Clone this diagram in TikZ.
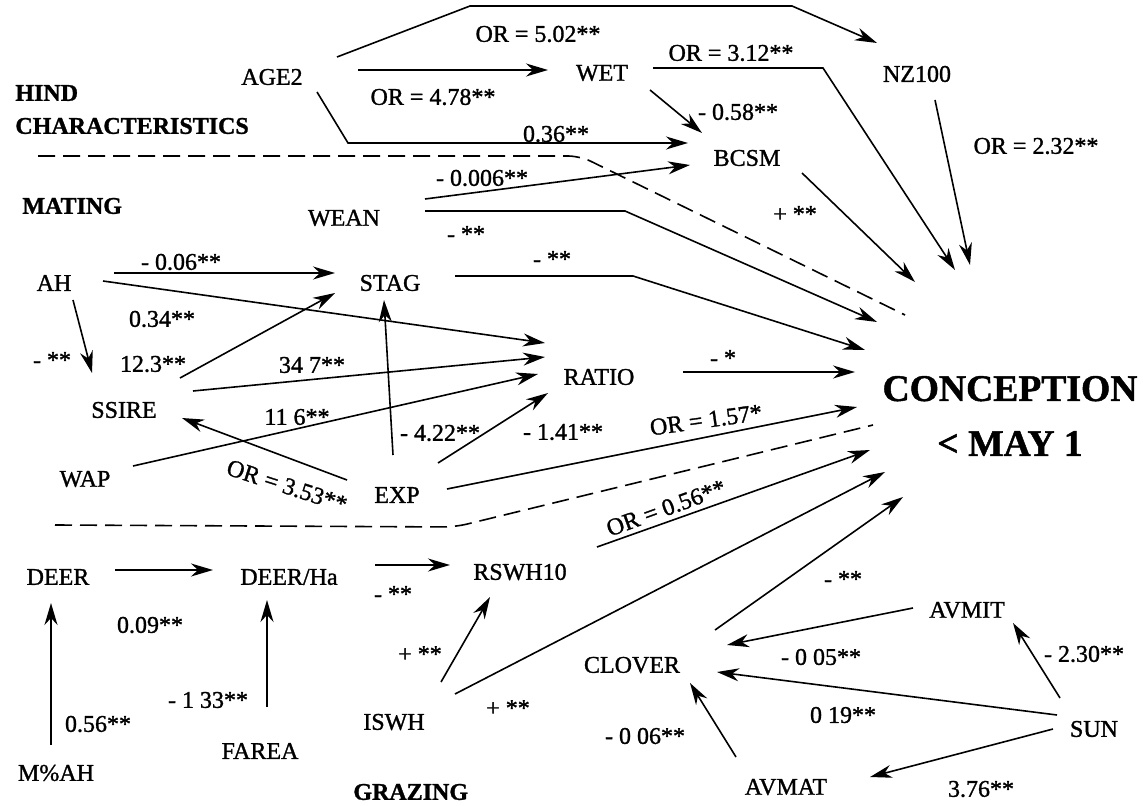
\documentclass[tikz,border=0pt]{standalone}
\usepackage{fontspec}
\setmainfont[FakeBold=1.2]{Liberation Serif}
\usetikzlibrary{arrows.meta}
\begin{document}
\begin{tikzpicture}[x=0.5pt,y=-0.5pt,
  var/.style={inner sep=0pt, font=\fontsize{12}{14}\selectfont},
  head/.style={inner sep=0pt, anchor=west, font=\fontsize{12}{14}\selectfont\bfseries},
  coef/.style={inner sep=0pt, font=\fontsize{12}{14}\selectfont},
  eff/.style={line width=0.8pt, -{Stealth[length=11pt,width=6.5pt,inset=3.5pt]}},
  border/.style={line width=0.8pt, dash pattern=on 8.5pt off 4pt, rounded corners=6pt}]

\useasboundingbox (0,0) rectangle (1143,806);

% group headings
\node[head] (hind) at (15,93) {HIND};
\node[head] (chars) at (15,126) {CHARACTERISTICS};
\node[head] (mating) at (22,206) {MATING};
\node[head] (grazing) at (353,792) {GRAZING};

% variables
\node[var] (AGE2) at (272,77) {AGE2};
\node[var] (WET) at (602,73) {WET};
\node[var] (NZ100) at (917,74) {NZ100};
\node[var] (BCSM) at (747,158) {BCSM};
\node[var] (WEAN) at (344,218) {WEAN};
\node[var] (AH) at (54,283) {AH};
\node[var] (STAG) at (390,283) {STAG};
\node[var] (SSIRE) at (124,410) {SSIRE};
\node[var] (RATIO) at (599,377) {RATIO};
\node[var] (WAP) at (85,479) {WAP};
\node[var] (EXP) at (397,495) {EXP};
\node[var] (DEER) at (58,577) {DEER};
\node[var] (DEERHa) at (289,577) {DEER/Ha};
\node[var] (RSWH10) at (520,572) {RSWH10};
\node[var] (MAH) at (56,773) {M\%AH};
\node[var] (FAREA) at (260,751) {FAREA};
\node[var] (ISWH) at (394,722) {ISWH};
\node[var] (CLOVER) at (632,665) {CLOVER};
\node[var] (AVMIT) at (967,610) {AVMIT};
\node[var] (SUN) at (1094,729) {SUN};
\node[var] (AVMAT) at (786,787) {AVMAT};

% outcome
\node[inner sep=0pt, align=center, font=\fontsize{18.8}{27.5}\selectfont\bfseries] (conc) at (1010,416) {CONCEPTION\\< MAY 1};

% arrival points around the outcome
\coordinate (cWET) at ([shift={(-55,-146)}]conc.center);
\coordinate (cNZ) at ([shift={(-40,-151)}]conc.center);
\coordinate (cBCSM) at ([shift={(-95,-134)}]conc.center);
\coordinate (cWEAN) at ([shift={(-133,-94)}]conc.center);
\coordinate (cSTAG) at ([shift={(-145,-66)}]conc.center);
\coordinate (cRATIO) at ([shift={(-155,-44)}]conc.center);
\coordinate (cEXP) at ([shift={(-153,-9)}]conc.center);
\coordinate (cRSWH) at ([shift={(-140,34)}]conc.center);
\coordinate (cISWH) at ([shift={(-125,56)}]conc.center);
\coordinate (cCLOVER) at ([shift={(-107,81)}]conc.center);

% group boundaries
\draw[border] (38,156) -- (580,156) -- (905,315);
\draw[border] (55,525) -- (455,527) -- (873,425);

% hind characteristics
\draw[eff] ([shift={(65,-20)}]AGE2.center) -- (470,6) -- (792,6) -- ([shift={(-40,-31)}]NZ100.center);
\draw[eff] ([shift={(86,-7)}]AGE2.center) -- ([shift={(-54,-3)}]WET.center);
\draw[eff] ([shift={(45,15)}]AGE2.center) -- (348,143) -- ([shift={(-59,-15)}]BCSM.center);
\draw[eff] ([shift={(48,17)}]WET.center) -- ([shift={(-45,-25)}]BCSM.center);
\draw[eff] ([shift={(51,-5)}]WET.center) -- (823,68) -- (cWET);
\draw[eff] ([shift={(18,26)}]NZ100.center) -- (cNZ);
\draw[eff] ([shift={(55,15)}]BCSM.center) -- (cBCSM);

% mating
\draw[eff] ([shift={(81,-19)}]WEAN.center) -- ([shift={(-57,7)}]BCSM.center);
\draw[eff] ([shift={(81,-7)}]WEAN.center) -- (625,211) -- (cWEAN);
\draw[eff] ([shift={(60,-10)}]AH.center) -- ([shift={(-55,-10)}]STAG.center);
\draw[eff] ([shift={(65,-7)}]STAG.center) -- (633,276) -- (cSTAG);
\draw[eff] ([shift={(49,-2)}]AH.center) -- ([shift={(-54,-34)}]RATIO.center);
\draw[eff] ([shift={(19,17)}]AH.center) -- ([shift={(-32,-37)}]SSIRE.center);
\draw[eff] ([shift={(56,-32)}]SSIRE.center) -- ([shift={(-55,10)}]STAG.center);
\draw[eff] ([shift={(69,-19)}]SSIRE.center) -- ([shift={(-54,-20)}]RATIO.center);
\draw[eff] ([shift={(48,-13)}]WAP.center) -- ([shift={(-61,-3)}]RATIO.center);
\draw[eff] ([shift={(-50,-15)}]EXP.center) -- ([shift={(58,8)}]SSIRE.center);
\draw[eff] ([shift={(-4,-40)}]EXP.center) -- ([shift={(-6,17)}]STAG.center);
\draw[eff] ([shift={(41,-32)}]EXP.center) -- ([shift={(-51,16)}]RATIO.center);
\draw[eff] ([shift={(84,-5)}]RATIO.center) -- (cRATIO);
\draw[eff] ([shift={(50,-6)}]EXP.center) -- (cEXP);

% grazing
\draw[eff] ([shift={(57,-7)}]DEER.center) -- ([shift={(-76,-7)}]DEERHa.center);
\draw[eff] ([shift={(-5,-28)}]MAH.center) -- ([shift={(-7,26)}]DEER.center);
\draw[eff] ([shift={(7,-44)}]FAREA.center) -- ([shift={(-22,23)}]DEERHa.center);
\draw[eff] ([shift={(86,-12)}]DEERHa.center) -- ([shift={(-70,-7)}]RSWH10.center);
\draw[eff] ([shift={(47,-40)}]ISWH.center) -- ([shift={(-30,25)}]RSWH10.center);
\draw[eff] ([shift={(77,-25)}]RSWH10.center) -- (cRSWH);
\draw[eff] ([shift={(61,-28)}]ISWH.center) -- (cISWH);
\draw[eff] ([shift={(83,-35)}]CLOVER.center) -- (cCLOVER);
\draw[eff] ([shift={(-54,-2)}]AVMIT.center) -- ([shift={(95,-20)}]CLOVER.center);
\draw[eff] ([shift={(-37,-14)}]SUN.center) -- ([shift={(85,7)}]CLOVER.center);
\draw[eff] ([shift={(-50,-30)}]AVMAT.center) -- ([shift={(58,18)}]CLOVER.center);
\draw[eff] ([shift={(-34,-31)}]SUN.center) -- ([shift={(46,13)}]AVMIT.center);
\draw[eff] ([shift={(-41,0)}]SUN.center) -- ([shift={(84,-10)}]AVMAT.center);

% path coefficients
\node[coef] (l1) at (538,34) {OR = 5.02**};
\node[coef] (l2) at (433,97) {OR = 4.78**};
\node[coef] (l3) at (556,134) {0.36**};
\node[coef] (l4) at (738,112) {- 0.58**};
\node[coef] (l5) at (731,53) {OR = 3.12**};
\node[coef] (l6) at (1036,146) {OR = 2.32**};
\node[coef] (l7) at (795,214) {+ **};
\node[coef] (l8) at (482,178) {- 0.006**};
\node[coef] (l9) at (466,234) {- **};
\node[coef] (l10) at (181,262) {- 0.06**};
\node[coef] (l11) at (552,259) {- **};
\node[coef] (l12) at (162,319) {0.34**};
\node[coef] (l13) at (52,360) {- **};
\node[coef] (l14) at (153,364) {12.3**};
\node[coef] (l15) at (312,365) {34 7**};
\node[coef] (l16) at (297,417) {11 6**};
\node[coef, rotate=-18] (l17) at (287,486) {OR = 3.53**};
\node[coef] (l18) at (440,433) {- 4.22**};
\node[coef] (l19) at (563,432) {- 1.41**};
\node[coef] (l20) at (723,358) {- *};
\node[coef, rotate=8] (l21) at (706,420) {OR = 1.57*};
\node[coef] (l22) at (150,625) {0.09**};
\node[coef] (l23) at (98,724) {0.56**};
\node[coef] (l24) at (208,700) {- 1 33**};
\node[coef] (l25) at (393,594) {- **};
\node[coef] (l26) at (420,654) {+ **};
\node[coef, rotate=20] (l27) at (666,508) {OR = 0.56**};
\node[coef] (l28) at (508,708) {+ **};
\node[coef] (l29) at (843,579) {- **};
\node[coef] (l30) at (821,657) {- 0 05**};
\node[coef] (l31) at (843,715) {0 19**};
\node[coef] (l32) at (645,736) {- 0 06**};
\node[coef] (l33) at (1084,654) {- 2.30**};
\node[coef] (l34) at (981,789) {3.76**};
\end{tikzpicture}
\end{document}
